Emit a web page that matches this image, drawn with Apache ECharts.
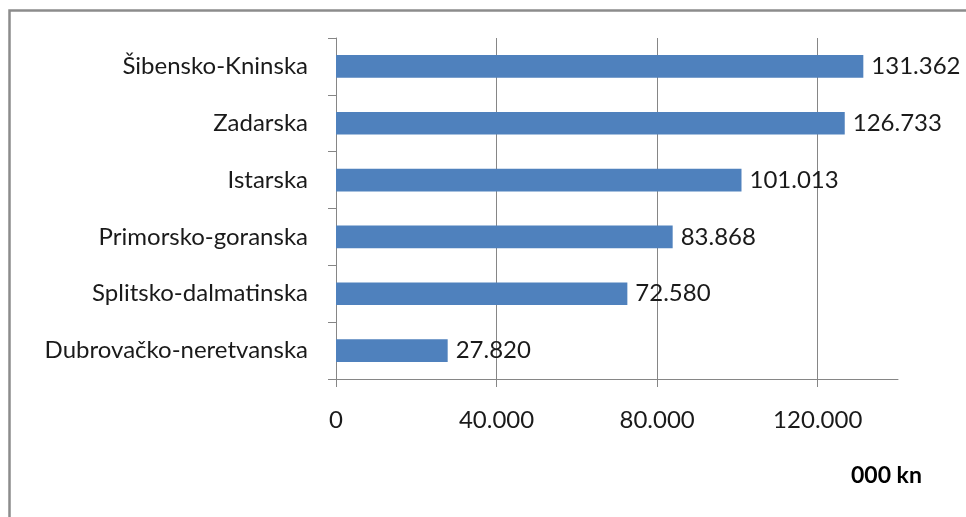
<!DOCTYPE html>
<html>
<head>
<meta charset="utf-8">
<script src="https://cdn.jsdelivr.net/npm/echarts@6/dist/echarts.min.js"></script>
<style>html,body{margin:0;padding:0;background:#fff}#c{width:966px;height:517px}</style>
</head>
<body>
<div id="c"></div>
<script>
const categories = ['Šibensko-Kninska','Zadarska','Istarska','Primorsko-goranska','Splitsko-dalmatinska','Dubrovačko-neretvanska'];
const values = [131362, 126733, 101013, 83868, 72580, 27820];
const tickValues = [0, 40000, 80000, 120000];
const unitLabel = '000 kn';

function fmt(v){ return String(v).replace(/\B(?=(\d{3})+(?!\d))/g, '.'); }
const FONT = 'Lato';
const FS = 24;
const chart = echarts.init(document.getElementById('c'));
chart.setOption({
  animation:false,
  backgroundColor:'#fff',
  grid:{left:336, top:38, right:68, bottom:138},
  xAxis:{
    type:'value', min:0, max:140000, interval:40000,
    axisLine:{show:true, lineStyle:{color:'#868686', width:1}},
    axisTick:{show:true, length:8, customValues:tickValues, lineStyle:{color:'#868686'}},
    axisLabel:{customValues:tickValues, margin:29, color:'#1a1a1a', fontFamily:FONT, fontSize:FS, formatter:v=>fmt(v)},
    splitLine:{show:true, lineStyle:{color:['#868686','#868686','#868686','#868686','rgba(0,0,0,0)'], width:1}}
  },
  yAxis:{
    type:'category', data:categories, inverse:true,
    axisLine:{show:true, lineStyle:{color:'#868686'}},
    axisTick:{show:true, length:8, lineStyle:{color:'#868686'}},
    axisLabel:{margin:28, color:'#1a1a1a', fontFamily:FONT, fontSize:FS}
  },
  series:[{
    type:'bar', data:values, barCategoryGap:'60%',
    itemStyle:{color:'#4F81BD'},
    label:{show:true, position:'right', distance:8, color:'#1a1a1a', fontFamily:FONT, fontSize:FS, formatter:p=>fmt(p.value)}
  }],
  graphic:[
    {type:'rect', shape:{x:9.5, y:10.5, width:1000, height:1000}, style:{fill:null, stroke:'#8c8c8c', lineWidth:2.5}},
    {type:'text', left:851, top:464, style:{text:unitLabel, font:'bold 23px '+FONT, fill:'#000'}}
  ]
});
</script>
</body>
</html>
